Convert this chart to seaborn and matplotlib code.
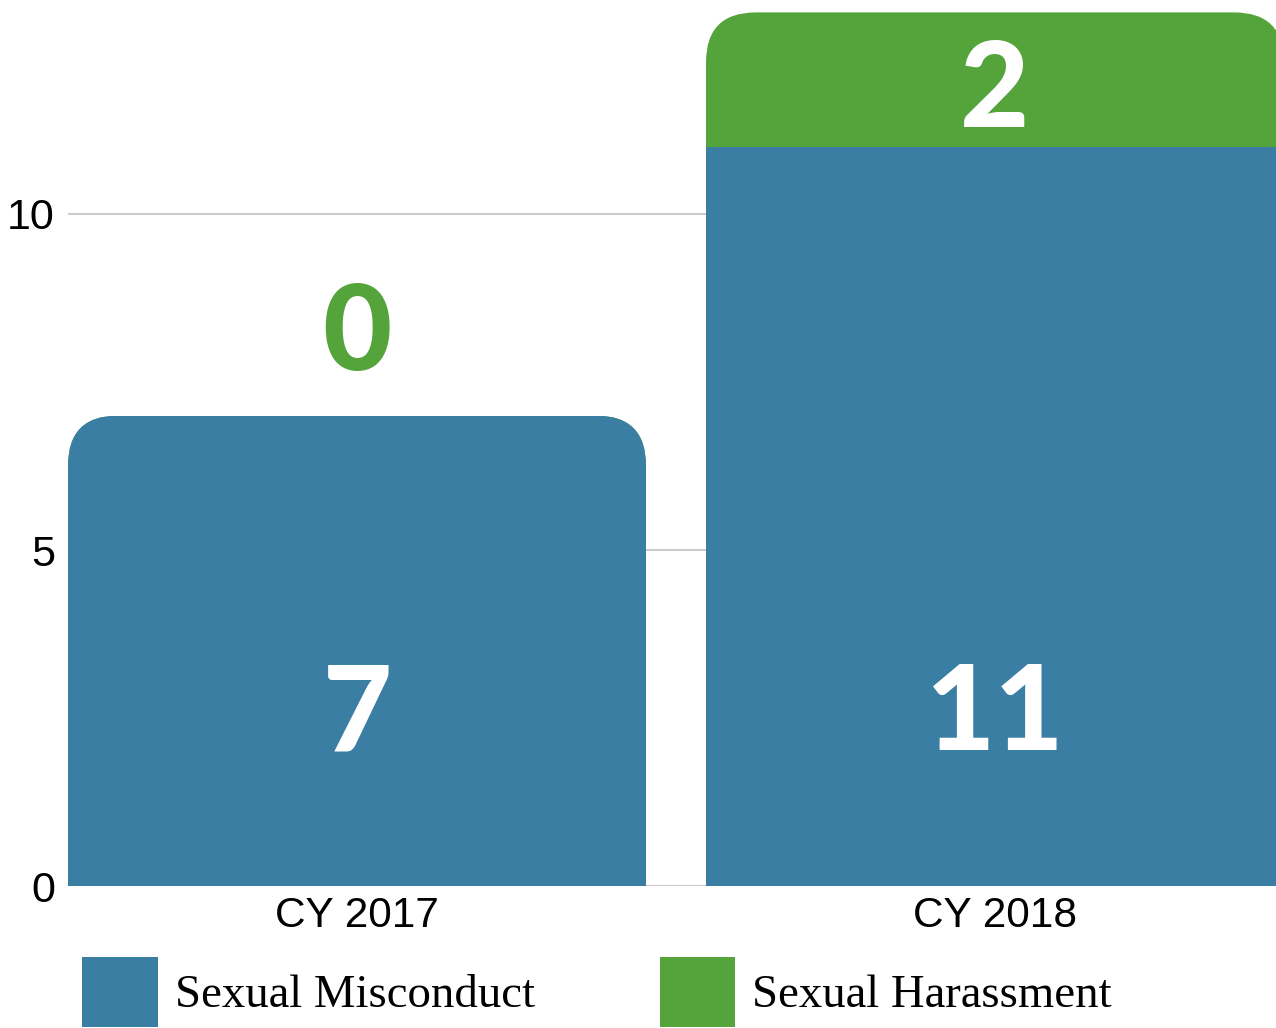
import matplotlib
matplotlib.use('Agg')
import matplotlib.pyplot as plt
import seaborn as sns
import pandas as pd
from matplotlib.patches import Patch, FancyBboxPatch
from matplotlib.transforms import IdentityTransform

years = ['CY 2017', 'CY 2018']
misconduct = [7, 11]
harassment = [0, 2]
series_names = ['Sexual Misconduct', 'Sexual Harassment']

blue = '#3b7ea4'
green = '#54a43b'
bar_w = 0.906

sns.set_style('white')
plt.rcParams['font.family'] = ['Liberation Sans', 'DejaVu Sans']
plt.rcParams['text.color'] = 'black'

df = pd.DataFrame({'year': years, 'misconduct': misconduct, 'harassment': harassment})
df['total'] = df['misconduct'] + df['harassment']

fig = plt.figure(figsize=(12.76, 10.28), dpi=100)
ax = fig.add_axes([68 / 1276, 1 - 886 / 1028, 1 - 68 / 1276, 886 / 1028])

# stacked: total in green underneath, misconduct in blue on top of it
sns.barplot(data=df, x='year', y='total', color=green, saturation=1, width=bar_w,
            linewidth=0, ax=ax)
sns.barplot(data=df, x='year', y='misconduct', color=blue, saturation=1, width=bar_w,
            linewidth=0, ax=ax)

ax.set_xlim(-bar_w / 2, 1 + (1276 - 995) / 638)
ax.set_ylim(0, 886 / 67.2)
ax.set_yticks([0, 5, 10])
ax.set_xlabel('')
ax.set_ylabel('')
ax.yaxis.grid(True, color='#cccccc', lw=1.5)
ax.xaxis.grid(False)
ax.set_axisbelow(True)
for s in ax.spines.values():
    s.set_visible(False)
ax.tick_params(axis='y', length=0, pad=9.5, labelsize=31, labelcolor='black')
ax.tick_params(axis='x', length=0, pad=7, labelsize=30.5, labelcolor='black')

# round the top corners of each stack
radius = 50
for i, row in df.iterrows():
    (x0, y0) = ax.transData.transform((i - bar_w / 2, -2))
    (x1, y1) = ax.transData.transform((i + bar_w / 2, row['total']))
    clip = FancyBboxPatch((x0, y0), x1 - x0, y1 - y0,
                          boxstyle='round,pad=0,rounding_size=%d' % radius,
                          transform=IdentityTransform())
    for p in ax.patches:
        if abs(p.get_x() + p.get_width() / 2 - i) < 0.1:
            p.set_clip_path(clip)

# value labels
num_font = dict(family=['Lato', 'DejaVu Sans'], fontweight='black', fontsize=86, ha='center', va='baseline')
for i, row in df.iterrows():
    ax.text(i, 2.02, str(row['misconduct']), color='white', **num_font)
    if row['harassment'] == 0:
        ax.text(i, row['total'] + 0.68, str(row['harassment']), color=green, **num_font)
    else:
        ax.text(i, row['misconduct'] + row['harassment'] / 2 - 0.7, str(row['harassment']),
                color='white', **num_font)

handles = [Patch(color=blue, lw=0), Patch(color=green, lw=0)]
fig.legend(handles, series_names, loc='center left', bbox_to_anchor=(82 / 1276, 1 - 992 / 1028),
           ncol=2, frameon=False, borderpad=0, borderaxespad=0, labelcolor='black',
           prop={'family': ['Liberation Serif', 'DejaVu Serif'], 'size': 33.7},
           handlelength=1.62, handleheight=1.9, handletextpad=0.36, columnspacing=2.67)

fig.savefig('out.png', dpi=100)
